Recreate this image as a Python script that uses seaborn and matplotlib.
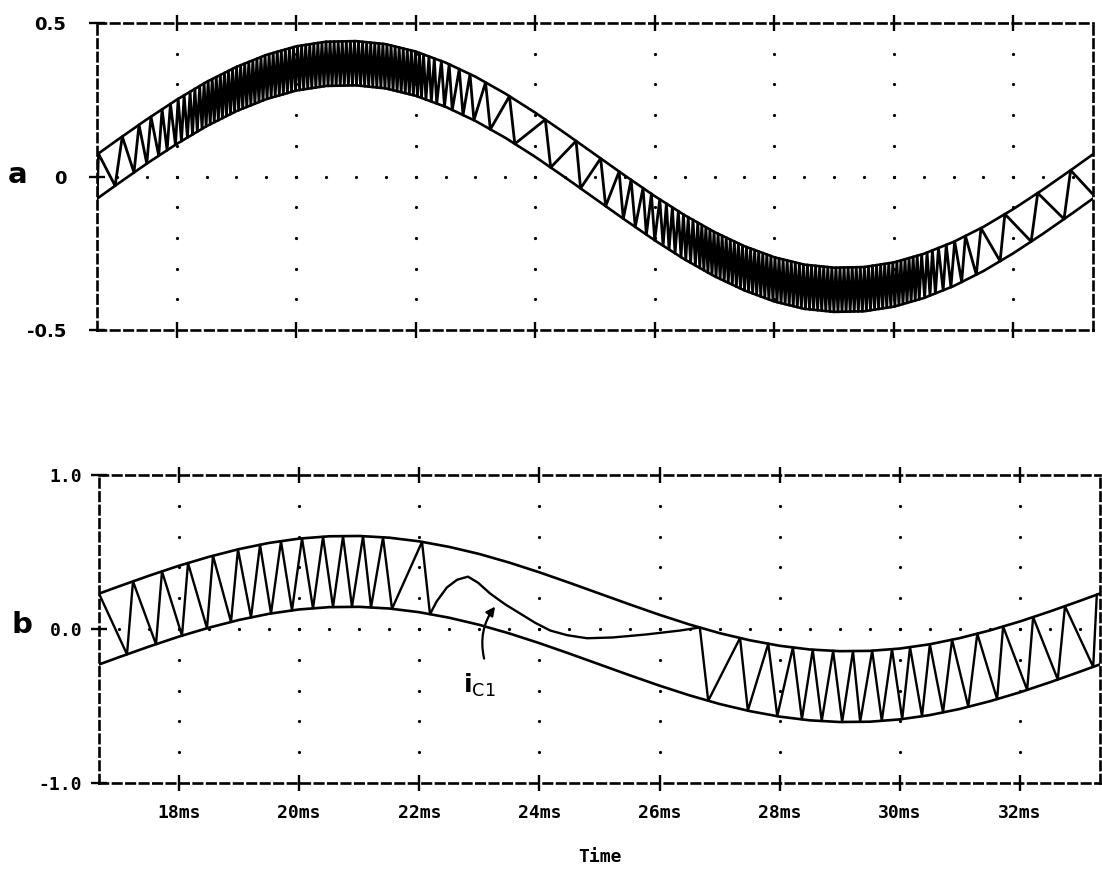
import numpy as np
import pandas as pd
import matplotlib
matplotlib.use("Agg")
import matplotlib.pyplot as plt
import seaborn as sns

# ---------------- data ----------------
# envelope sample times (ms)
env_t = [16.67, 17.0, 17.5, 18.0, 18.5, 19.0, 19.5, 20.0, 20.5, 21.0, 21.5, 22.0,
         22.5, 23.0, 23.5, 24.0, 24.5, 25.0, 25.5, 26.0, 26.5, 27.0, 27.5, 28.0,
         28.5, 29.0, 29.5, 30.0, 30.5, 31.0, 31.5, 32.0, 32.5, 33.0, 33.33]

# panel a: hysteresis band edges
top_upper = [0.072, 0.118, 0.186, 0.250, 0.308, 0.357, 0.396, 0.424, 0.439, 0.441,
             0.431, 0.407, 0.371, 0.325, 0.270, 0.208, 0.141, 0.072, 0.003, -0.064,
             -0.126, -0.181, -0.227, -0.263, -0.287, -0.297, -0.295, -0.280, -0.252,
             -0.213, -0.164, -0.106, -0.042, 0.026, 0.072]
top_lower = [-0.072, -0.026, 0.042, 0.106, 0.164, 0.213, 0.252, 0.280, 0.295, 0.297,
             0.287, 0.263, 0.227, 0.181, 0.126, 0.064, -0.003, -0.072, -0.141, -0.208,
             -0.270, -0.325, -0.371, -0.407, -0.431, -0.441, -0.439, -0.424, -0.396,
             -0.357, -0.308, -0.250, -0.186, -0.118, -0.072]

# panel a: switching pattern (segment start ms, switching period ms, share of period rising)
top_sw_start = [16.67, 16.69, 17.0, 17.3, 17.6, 17.9, 18.2, 18.4, 22.1, 22.35, 22.6, 22.85,
                23.1, 23.5, 24.2, 24.7, 25.1, 25.4, 25.75, 26.1, 26.4, 26.7, 30.4, 30.65,
                30.9, 31.15, 31.4, 31.8, 32.4, 33.0]
top_sw_period = [0.04, 0.40, 0.28, 0.20, 0.14, 0.10, 0.08, 0.068, 0.09, 0.13, 0.18, 0.26,
                 0.40, 0.60, 0.50, 0.42, 0.30, 0.20, 0.14, 0.10, 0.08, 0.068, 0.09, 0.13,
                 0.18, 0.26, 0.40, 0.55, 0.55, 0.45]
top_sw_rise = [0.5, 0.3, 0.3, 0.35, 0.4, 0.45, 0.5, 0.5, 0.55, 0.6, 0.65, 0.75,
               0.8, 0.85, 0.85, 0.8, 0.75, 0.65, 0.6, 0.55, 0.5, 0.5, 0.45, 0.4,
               0.35, 0.3, 0.2, 0.2, 0.2, 0.2]

# panel b: band edges
bot_upper = [0.230, 0.277, 0.346, 0.411, 0.469, 0.519, 0.559, 0.587, 0.602, 0.604,
             0.593, 0.569, 0.533, 0.487, 0.431, 0.368, 0.300, 0.230, 0.160, 0.092,
             0.029, -0.027, -0.073, -0.109, -0.133, -0.144, -0.142, -0.127, -0.099,
             -0.059, -0.009, 0.049, 0.114, 0.183, 0.230]
bot_lower = [-0.230, -0.183, -0.114, -0.049, 0.009, 0.059, 0.099, 0.127, 0.142, 0.144,
             0.133, 0.109, 0.073, 0.027, -0.029, -0.092, -0.160, -0.230, -0.300, -0.368,
             -0.431, -0.487, -0.533, -0.569, -0.593, -0.604, -0.602, -0.587, -0.559,
             -0.519, -0.469, -0.411, -0.346, -0.277, -0.230]

# panel b: switching instants (ms), alternating upper / lower, first on upper edge
bot_sw1_t = [16.667, 17.133, 17.233, 17.616, 17.716, 18.049, 18.149, 18.465, 18.565,
             18.865, 18.981, 19.198, 19.348, 19.531, 19.697, 19.880, 20.047, 20.230,
             20.397, 20.563, 20.730, 20.879, 21.063, 21.196, 21.396, 21.545, 22.045,
             22.178]
# free-running capacitor current i_C1 between the two switching intervals
ic1_t = [22.29, 22.46, 22.63, 22.81, 22.98, 23.18, 23.43, 23.68, 23.93, 24.18, 24.46,
         24.79, 25.22, 25.79, 26.34]
ic1_v = [0.18, 0.27, 0.32, 0.34, 0.30, 0.23, 0.16, 0.10, 0.04, -0.01, -0.04,
         -0.06, -0.055, -0.035, -0.01]
bot_sw2_t = [26.67, 26.81, 27.34, 27.47, 27.81, 27.96, 28.22, 28.37, 28.55, 28.70,
             28.89, 29.04, 29.22, 29.34, 29.54, 29.70, 29.87, 30.04, 30.17, 30.37,
             30.50, 30.72, 30.87, 31.14, 31.29, 31.62, 31.72, 32.12, 32.22, 32.63,
             32.75, 33.22, 33.28]

x_ticks = [18, 20, 22, 24, 26, 28, 30, 32]
x_ticklabels = ["18ms", "20ms", "22ms", "24ms", "26ms", "28ms", "30ms", "32ms"]
top_yticks = [-0.5, 0.0, 0.5]
top_yticklabels = ["-0.5", "0", "0.5"]
bot_yticks = [-1.0, 0.0, 1.0]
bot_yticklabels = ["-1.0", "0.0", "1.0"]
T0, T1 = 16.667, 33.333

# ---------------- build lines ----------------
def switching(starts, periods, rises, t_end):
    ts, side = [starts[0]], [0]
    t, s = starts[0], 0
    while t <= t_end:
        i = int(np.searchsorted(starts, t + 1e-9, side="right") - 1)
        frac = rises[i] if s == 0 else 1 - rises[i]
        t = t + periods[i] * frac
        s = 1 - s
        ts.append(t)
        side.append(s)
    return np.array(ts), np.array(side)

tz, sz = switching(top_sw_start, top_sw_period, top_sw_rise, T1)
top_zz = pd.DataFrame({
    "t": tz,
    "v": np.where(sz == 1, np.interp(tz, env_t, top_upper), np.interp(tz, env_t, top_lower)),
})

def on_edges(times, first_upper=True):
    times = np.asarray(times)
    up = (np.arange(len(times)) % 2 == 0) == first_upper
    return np.where(up, np.interp(times, env_t, bot_upper), np.interp(times, env_t, bot_lower))

b_t = np.concatenate([bot_sw1_t, ic1_t, bot_sw2_t])
b_v = np.concatenate([on_edges(bot_sw1_t), ic1_v, on_edges(bot_sw2_t)])
bot_line = pd.DataFrame({"t": b_t, "v": b_v})

env = pd.DataFrame({"t": env_t, "top_up": top_upper, "top_lo": top_lower,
                    "bot_up": bot_upper, "bot_lo": bot_lower})

# ---------------- figure ----------------
sns.set_theme(style="white")
plt.rcParams["font.family"] = ["DejaVu Sans"]
for k in ("text.color", "axes.labelcolor", "xtick.color", "ytick.color", "axes.edgecolor"):
    plt.rcParams[k] = "black"

W, H = 1102, 874
fig = plt.figure(figsize=(W / 100, H / 100), dpi=100)
ax1 = fig.add_axes([97 / W, 1 - 330 / H, 996 / W, 307 / H])
ax2 = fig.add_axes([99 / W, 1 - 783 / H, 1001 / W, 308 / H])

mono = "DejaVu Sans Mono"

def frame(ax, ylim, ystep):
    ax.set_xlim(T0, T1)
    ax.set_ylim(*ylim)
    ax.set_facecolor("white")
    for sp in ax.spines.values():
        sp.set_visible(True)
        sp.set_color("black")
        sp.set_linewidth(1.9)
        sp.set_linestyle((0, (3.2, 1.9)))
    ax.set_xticks(x_ticks)
    ax.tick_params(axis="both", direction="inout", length=12, width=1.7, color="black",
                   labelcolor="black", top=True, bottom=True, left=True, right=False)
    # dotted grid: columns at the major x ticks, row at zero
    gy = np.arange(ylim[0] + ystep, ylim[1] - ystep / 2, ystep)
    gx, gyy = np.meshgrid(x_ticks, gy)
    ax.plot(gx.ravel(), gyy.ravel(), "o", color="black", ms=2.3, mew=0, zorder=1)
    rx = np.arange(17.0, 33.26, 0.5)
    ax.plot(rx, np.zeros_like(rx), "o", color="black", ms=2.3, mew=0, zorder=1)

frame(ax1, (-0.5, 0.5), 0.1)
frame(ax2, (-1.0, 1.0), 0.2)

# panel a
sns.lineplot(data=env, x="t", y="top_up", ax=ax1, color="black", lw=1.9, estimator=None, sort=False)
sns.lineplot(data=env, x="t", y="top_lo", ax=ax1, color="black", lw=1.9, estimator=None, sort=False)
sns.lineplot(data=top_zz, x="t", y="v", ax=ax1, color="black", lw=2.0, estimator=None, sort=False)

# panel b
sns.lineplot(data=env, x="t", y="bot_up", ax=ax2, color="black", lw=1.9, estimator=None, sort=False)
sns.lineplot(data=env, x="t", y="bot_lo", ax=ax2, color="black", lw=1.9, estimator=None, sort=False)
sns.lineplot(data=bot_line, x="t", y="v", ax=ax2, color="black", lw=1.7, estimator=None, sort=False)

for ax in (ax1, ax2):
    ax.set_xlim(T0, T1)
    ax.set_xlabel("")
    ax.set_ylabel("")

ax1.set_ylim(-0.5, 0.5)
ax2.set_ylim(-1.0, 1.0)

ax1.set_yticks(top_yticks)
ax1.set_yticklabels(top_yticklabels, fontsize=13, fontweight="bold", color="black")
ax1.tick_params(axis="y", pad=16)
ax1.tick_params(axis="x", labelbottom=False)

ax2.set_yticks(bot_yticks)
ax2.set_yticklabels(bot_yticklabels, fontsize=13, fontweight="bold", family=mono, color="black")
ax2.tick_params(axis="y", pad=6)
ax2.set_xticks(x_ticks)
ax2.set_xticklabels(x_ticklabels, fontsize=13, fontweight="bold", family=mono, color="black")
ax2.tick_params(axis="x", pad=9)

fig.text(600 / W, 1 - 857 / H, "Time", ha="center", va="center", fontsize=13,
         fontweight="bold", family=mono, color="black")
fig.text(8 / W, 1 - 183 / H, "a", fontsize=21, fontweight="bold", va="baseline", ha="left",
         color="black")
fig.text(12 / W, 1 - 633 / H, "b", fontsize=21, fontweight="bold", va="baseline", ha="left",
         color="black")

# i_C1 label with arrow
ax2.text(22.73, -0.415, r"$\mathbf{i}_{\mathsf{C1}}$", fontsize=18, ha="left", va="baseline",
         color="black")
ax2.annotate("", xy=(23.29, 0.16), xytext=(23.09, -0.21),
             arrowprops=dict(arrowstyle="-|>", color="black", lw=1.6, mutation_scale=13,
                             connectionstyle="arc3,rad=-0.25"))

fig.savefig("out.png", dpi=100, facecolor="white")
